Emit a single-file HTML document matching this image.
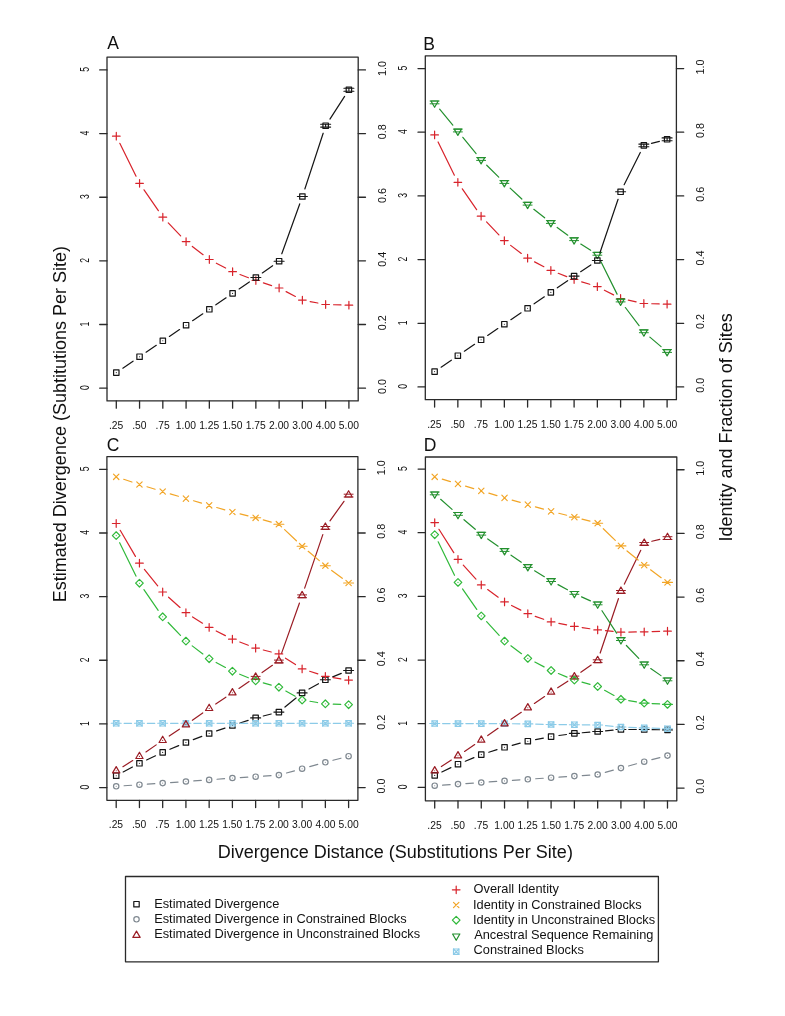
<!DOCTYPE html>
<html><head><meta charset="utf-8"><title>Divergence plots</title>
<style>
html,body{margin:0;padding:0;background:#fff;}
svg{display:block;filter:blur(0.35px);} path,rect,polygon,circle{stroke-linecap:round;stroke-linejoin:round;}
text{font-family:"Liberation Sans",sans-serif;fill:#111;}
</style></head><body>
<svg width="785" height="1016" viewBox="0 0 785 1016">
<rect width="785" height="1016" fill="#fff"/>
<rect x="107.00" y="57.20" width="251.20" height="343.70" fill="none" stroke="#2a2a2a" stroke-width="1.3"/>
<path d="M116.30 400.90V408.20M139.56 400.90V408.20M162.82 400.90V408.20M186.08 400.90V408.20M209.34 400.90V408.20M232.60 400.90V408.20M255.86 400.90V408.20M279.12 400.90V408.20M302.38 400.90V408.20M325.64 400.90V408.20M348.90 400.90V408.20M107.00 388.17H99.70M358.20 388.17H365.50M107.00 324.52H99.70M358.20 324.52H365.50M107.00 260.87H99.70M358.20 260.87H365.50M107.00 197.23H99.70M358.20 197.23H365.50M107.00 133.58H99.70M358.20 133.58H365.50M107.00 69.93H99.70M358.20 69.93H365.50" stroke="#2a2a2a" stroke-width="1.3" fill="none"/>
<text transform="translate(108.89,429.00)" font-size="10.3">.25</text>
<text transform="translate(132.13,429.00)" font-size="10.3">.50</text>
<text transform="translate(155.41,429.00)" font-size="10.3">.75</text>
<text transform="translate(175.87,429.00)" font-size="10.3">1.00</text>
<text transform="translate(199.14,429.00)" font-size="10.3">1.25</text>
<text transform="translate(222.39,429.00)" font-size="10.3">1.50</text>
<text transform="translate(245.66,429.00)" font-size="10.3">1.75</text>
<text transform="translate(269.04,429.00)" font-size="10.3">2.00</text>
<text transform="translate(292.36,429.00)" font-size="10.3">3.00</text>
<text transform="translate(315.70,429.00)" font-size="10.3">4.00</text>
<text transform="translate(338.87,429.00)" font-size="10.3">5.00</text>
<text transform="translate(88.66,390.06) rotate(-90) scale(1.0,1.45)" font-size="8.6">0</text>
<text transform="translate(385.62,393.98) rotate(-90)" font-size="10.8">0.0</text>
<text transform="translate(88.66,326.53) rotate(-90) scale(1.0,1.45)" font-size="8.6">1</text>
<text transform="translate(385.62,330.27) rotate(-90)" font-size="10.8">0.2</text>
<text transform="translate(88.66,262.77) rotate(-90) scale(1.0,1.45)" font-size="8.6">2</text>
<text transform="translate(385.62,266.73) rotate(-90)" font-size="10.8">0.4</text>
<text transform="translate(88.66,199.09) rotate(-90) scale(1.0,1.45)" font-size="8.6">3</text>
<text transform="translate(385.62,203.01) rotate(-90)" font-size="10.8">0.6</text>
<text transform="translate(88.66,135.44) rotate(-90) scale(1.0,1.45)" font-size="8.6">4</text>
<text transform="translate(385.62,139.36) rotate(-90)" font-size="10.8">0.8</text>
<text transform="translate(88.66,71.81) rotate(-90) scale(1.0,1.45)" font-size="8.6">5</text>
<text transform="translate(385.62,75.94) rotate(-90)" font-size="10.8">1.0</text>
<text transform="translate(107.17,49.20)" font-size="17.5">A</text>
<rect x="425.30" y="55.80" width="251.10" height="343.90" fill="none" stroke="#2a2a2a" stroke-width="1.3"/>
<path d="M434.60 399.70V407.00M457.85 399.70V407.00M481.10 399.70V407.00M504.35 399.70V407.00M527.60 399.70V407.00M550.85 399.70V407.00M574.10 399.70V407.00M597.35 399.70V407.00M620.60 399.70V407.00M643.85 399.70V407.00M667.10 399.70V407.00M425.30 386.96H418.00M676.40 386.96H683.70M425.30 323.28H418.00M676.40 323.28H683.70M425.30 259.59H418.00M676.40 259.59H683.70M425.30 195.91H418.00M676.40 195.91H683.70M425.30 132.22H418.00M676.40 132.22H683.70M425.30 68.54H418.00M676.40 68.54H683.70" stroke="#2a2a2a" stroke-width="1.3" fill="none"/>
<text transform="translate(427.19,427.80)" font-size="10.3">.25</text>
<text transform="translate(450.42,427.80)" font-size="10.3">.50</text>
<text transform="translate(473.69,427.80)" font-size="10.3">.75</text>
<text transform="translate(494.14,427.80)" font-size="10.3">1.00</text>
<text transform="translate(517.40,427.80)" font-size="10.3">1.25</text>
<text transform="translate(540.64,427.80)" font-size="10.3">1.50</text>
<text transform="translate(563.90,427.80)" font-size="10.3">1.75</text>
<text transform="translate(587.27,427.80)" font-size="10.3">2.00</text>
<text transform="translate(610.58,427.80)" font-size="10.3">3.00</text>
<text transform="translate(633.91,427.80)" font-size="10.3">4.00</text>
<text transform="translate(657.07,427.80)" font-size="10.3">5.00</text>
<text transform="translate(406.96,388.85) rotate(-90) scale(1.0,1.45)" font-size="8.6">0</text>
<text transform="translate(703.82,392.77) rotate(-90)" font-size="10.8">0.0</text>
<text transform="translate(406.96,325.29) rotate(-90) scale(1.0,1.45)" font-size="8.6">1</text>
<text transform="translate(703.82,329.02) rotate(-90)" font-size="10.8">0.2</text>
<text transform="translate(406.96,261.48) rotate(-90) scale(1.0,1.45)" font-size="8.6">2</text>
<text transform="translate(703.82,265.45) rotate(-90)" font-size="10.8">0.4</text>
<text transform="translate(406.96,197.77) rotate(-90) scale(1.0,1.45)" font-size="8.6">3</text>
<text transform="translate(703.82,201.69) rotate(-90)" font-size="10.8">0.6</text>
<text transform="translate(406.96,134.09) rotate(-90) scale(1.0,1.45)" font-size="8.6">4</text>
<text transform="translate(703.82,138.01) rotate(-90)" font-size="10.8">0.8</text>
<text transform="translate(406.96,70.42) rotate(-90) scale(1.0,1.45)" font-size="8.6">5</text>
<text transform="translate(703.82,74.54) rotate(-90)" font-size="10.8">1.0</text>
<text transform="translate(423.16,49.60)" font-size="17.5">B</text>
<rect x="106.90" y="456.60" width="251.00" height="343.70" fill="none" stroke="#2a2a2a" stroke-width="1.3"/>
<path d="M116.20 800.30V807.60M139.44 800.30V807.60M162.68 800.30V807.60M185.92 800.30V807.60M209.16 800.30V807.60M232.40 800.30V807.60M255.64 800.30V807.60M278.88 800.30V807.60M302.12 800.30V807.60M325.36 800.30V807.60M348.60 800.30V807.60M106.90 787.57H99.60M357.90 787.57H365.20M106.90 723.92H99.60M357.90 723.92H365.20M106.90 660.27H99.60M357.90 660.27H365.20M106.90 596.63H99.60M357.90 596.63H365.20M106.90 532.98H99.60M357.90 532.98H365.20M106.90 469.33H99.60M357.90 469.33H365.20" stroke="#2a2a2a" stroke-width="1.3" fill="none"/>
<text transform="translate(108.78,828.40)" font-size="10.3">.25</text>
<text transform="translate(132.01,828.40)" font-size="10.3">.50</text>
<text transform="translate(155.26,828.40)" font-size="10.3">.75</text>
<text transform="translate(175.70,828.40)" font-size="10.3">1.00</text>
<text transform="translate(198.96,828.40)" font-size="10.3">1.25</text>
<text transform="translate(222.19,828.40)" font-size="10.3">1.50</text>
<text transform="translate(245.44,828.40)" font-size="10.3">1.75</text>
<text transform="translate(268.80,828.40)" font-size="10.3">2.00</text>
<text transform="translate(292.10,828.40)" font-size="10.3">3.00</text>
<text transform="translate(315.42,828.40)" font-size="10.3">4.00</text>
<text transform="translate(338.58,828.40)" font-size="10.3">5.00</text>
<text transform="translate(88.56,789.46) rotate(-90) scale(1.0,1.45)" font-size="8.6">0</text>
<text transform="translate(385.32,793.38) rotate(-90)" font-size="10.8">0.0</text>
<text transform="translate(88.56,725.93) rotate(-90) scale(1.0,1.45)" font-size="8.6">1</text>
<text transform="translate(385.32,729.67) rotate(-90)" font-size="10.8">0.2</text>
<text transform="translate(88.56,662.17) rotate(-90) scale(1.0,1.45)" font-size="8.6">2</text>
<text transform="translate(385.32,666.13) rotate(-90)" font-size="10.8">0.4</text>
<text transform="translate(88.56,598.49) rotate(-90) scale(1.0,1.45)" font-size="8.6">3</text>
<text transform="translate(385.32,602.41) rotate(-90)" font-size="10.8">0.6</text>
<text transform="translate(88.56,534.84) rotate(-90) scale(1.0,1.45)" font-size="8.6">4</text>
<text transform="translate(385.32,538.76) rotate(-90)" font-size="10.8">0.8</text>
<text transform="translate(88.56,471.21) rotate(-90) scale(1.0,1.45)" font-size="8.6">5</text>
<text transform="translate(385.32,475.34) rotate(-90)" font-size="10.8">1.0</text>
<text transform="translate(106.81,451.10)" font-size="17.5">C</text>
<rect x="425.40" y="457.00" width="251.40" height="343.80" fill="none" stroke="#2a2a2a" stroke-width="1.3"/>
<path d="M434.71 800.80V808.10M457.99 800.80V808.10M481.27 800.80V808.10M504.54 800.80V808.10M527.82 800.80V808.10M551.10 800.80V808.10M574.38 800.80V808.10M597.66 800.80V808.10M620.93 800.80V808.10M644.21 800.80V808.10M667.49 800.80V808.10M425.40 787.37H418.10M676.80 788.07H684.10M425.40 723.70H418.10M676.80 724.40H684.10M425.40 660.03H418.10M676.80 660.73H684.10M425.40 596.37H418.10M676.80 597.07H684.10M425.40 532.70H418.10M676.80 533.40H684.10M425.40 469.03H418.10M676.80 469.73H684.10" stroke="#2a2a2a" stroke-width="1.3" fill="none"/>
<text transform="translate(427.30,828.90)" font-size="10.3">.25</text>
<text transform="translate(450.56,828.90)" font-size="10.3">.50</text>
<text transform="translate(473.85,828.90)" font-size="10.3">.75</text>
<text transform="translate(494.33,828.90)" font-size="10.3">1.00</text>
<text transform="translate(517.62,828.90)" font-size="10.3">1.25</text>
<text transform="translate(540.89,828.90)" font-size="10.3">1.50</text>
<text transform="translate(564.18,828.90)" font-size="10.3">1.75</text>
<text transform="translate(587.57,828.90)" font-size="10.3">2.00</text>
<text transform="translate(610.91,828.90)" font-size="10.3">3.00</text>
<text transform="translate(634.27,828.90)" font-size="10.3">4.00</text>
<text transform="translate(657.46,828.90)" font-size="10.3">5.00</text>
<text transform="translate(407.06,789.26) rotate(-90) scale(1.0,1.45)" font-size="8.6">0</text>
<text transform="translate(704.22,793.87) rotate(-90)" font-size="10.8">0.0</text>
<text transform="translate(407.06,725.71) rotate(-90) scale(1.0,1.45)" font-size="8.6">1</text>
<text transform="translate(704.22,730.15) rotate(-90)" font-size="10.8">0.2</text>
<text transform="translate(407.06,661.92) rotate(-90) scale(1.0,1.45)" font-size="8.6">2</text>
<text transform="translate(704.22,666.59) rotate(-90)" font-size="10.8">0.4</text>
<text transform="translate(407.06,598.23) rotate(-90) scale(1.0,1.45)" font-size="8.6">3</text>
<text transform="translate(704.22,602.85) rotate(-90)" font-size="10.8">0.6</text>
<text transform="translate(407.06,534.56) rotate(-90) scale(1.0,1.45)" font-size="8.6">4</text>
<text transform="translate(704.22,539.18) rotate(-90)" font-size="10.8">0.8</text>
<text transform="translate(407.06,470.92) rotate(-90) scale(1.0,1.45)" font-size="8.6">5</text>
<text transform="translate(704.22,475.74) rotate(-90)" font-size="10.8">1.0</text>
<text transform="translate(423.76,451.10)" font-size="17.5">D</text>
<path d="M119.80 143.28L136.06 176.22M144.03 189.81L158.35 210.69M168.27 222.92L180.63 235.88M192.34 246.42L203.08 254.68M216.34 263.17L225.60 268.03M239.99 274.50L248.47 277.70M263.38 282.92L271.60 285.58M286.13 291.65L295.37 296.45M310.14 301.57L317.87 303.03M333.53 304.74L341.00 304.96" stroke="#d8232b" stroke-width="1.2" fill="none"/>
<path d="M112.49 136.20H120.12M116.30 132.38V140.02" stroke="#d8232b" stroke-width="1.2" fill="none"/>
<path d="M135.74 183.30H143.38M139.56 179.48V187.12" stroke="#d8232b" stroke-width="1.2" fill="none"/>
<path d="M159.00 217.20H166.64M162.82 213.38V221.02" stroke="#d8232b" stroke-width="1.2" fill="none"/>
<path d="M182.26 241.60H189.90M186.08 237.78V245.42" stroke="#d8232b" stroke-width="1.2" fill="none"/>
<path d="M205.52 259.50H213.16M209.34 255.68V263.32" stroke="#d8232b" stroke-width="1.2" fill="none"/>
<path d="M228.78 271.70H236.42M232.60 267.88V275.52" stroke="#d8232b" stroke-width="1.2" fill="none"/>
<path d="M252.04 280.50H259.68M255.86 276.68V284.32" stroke="#d8232b" stroke-width="1.2" fill="none"/>
<path d="M275.30 288.00H282.94M279.12 284.18V291.82" stroke="#d8232b" stroke-width="1.2" fill="none"/>
<path d="M298.56 300.10H306.20M302.38 296.28V303.92" stroke="#d8232b" stroke-width="1.2" fill="none"/>
<path d="M321.82 304.50H329.46M325.64 300.68V308.32" stroke="#d8232b" stroke-width="1.2" fill="none"/>
<path d="M345.08 305.20H352.71M348.90 301.38V309.02" stroke="#d8232b" stroke-width="1.2" fill="none"/>
<path d="M122.83 368.14L133.04 361.16M146.08 352.24L156.30 345.26M169.38 336.40L179.52 329.60M192.60 320.74L202.82 313.76M215.86 304.84L226.08 297.86M239.12 288.94L249.34 281.96M262.33 272.97L272.65 265.73M281.79 253.77L299.71 203.93M304.84 188.99L323.17 133.21M329.93 119.07L344.60 96.43" stroke="#151515" stroke-width="1.2" fill="none"/>
<rect x="113.60" y="369.90" width="5.40" height="5.40" fill="none" stroke="#151515" stroke-width="1.2"/>
<circle cx="116.30" cy="372.60" r="0.55" fill="#151515"/>
<rect x="136.86" y="354.00" width="5.40" height="5.40" fill="none" stroke="#151515" stroke-width="1.2"/>
<circle cx="139.56" cy="356.70" r="0.55" fill="#151515"/>
<rect x="160.12" y="338.10" width="5.40" height="5.40" fill="none" stroke="#151515" stroke-width="1.2"/>
<circle cx="162.82" cy="340.80" r="0.55" fill="#151515"/>
<rect x="183.38" y="322.50" width="5.40" height="5.40" fill="none" stroke="#151515" stroke-width="1.2"/>
<circle cx="186.08" cy="325.20" r="0.55" fill="#151515"/>
<rect x="206.64" y="306.60" width="5.40" height="5.40" fill="none" stroke="#151515" stroke-width="1.2"/>
<circle cx="209.34" cy="309.30" r="0.55" fill="#151515"/>
<rect x="229.90" y="290.70" width="5.40" height="5.40" fill="none" stroke="#151515" stroke-width="1.2"/>
<circle cx="232.60" cy="293.40" r="0.55" fill="#151515"/>
<rect x="253.16" y="274.80" width="5.40" height="5.40" fill="none" stroke="#151515" stroke-width="1.2"/>
<path d="M250.86 277.50H260.86" stroke="#151515" stroke-width="1.1"/>
<rect x="276.42" y="258.50" width="5.40" height="5.40" fill="none" stroke="#151515" stroke-width="1.2"/>
<path d="M274.12 261.20H284.12" stroke="#151515" stroke-width="1.1"/>
<rect x="299.68" y="193.80" width="5.40" height="5.40" fill="none" stroke="#151515" stroke-width="1.2"/>
<path d="M297.38 196.50H307.38" stroke="#151515" stroke-width="1.1"/>
<rect x="322.94" y="123.00" width="5.40" height="5.40" fill="none" stroke="#151515" stroke-width="1.2"/>
<path d="M320.64 124.30H330.64M320.64 127.10H330.64M325.64 124.30V127.10" stroke="#151515" stroke-width="1.1" fill="none"/>
<rect x="346.20" y="87.10" width="5.40" height="5.40" fill="none" stroke="#151515" stroke-width="1.2"/>
<path d="M343.90 88.30H353.90M343.90 91.30H353.90M348.90 88.30V91.30" stroke="#151515" stroke-width="1.1" fill="none"/>
<path d="M438.08 141.99L454.37 175.21M462.32 188.81L476.63 209.69M486.55 221.92L498.90 234.88M510.65 245.37L521.30 253.43M534.60 261.87L543.85 266.73M558.21 273.28L566.74 276.62M581.66 281.81L589.79 284.29M604.38 290.20L613.57 294.90M628.32 300.16L636.13 301.84M651.75 303.74L659.20 303.96" stroke="#d8232b" stroke-width="1.2" fill="none"/>
<path d="M430.78 134.90H438.42M434.60 131.08V138.72" stroke="#d8232b" stroke-width="1.2" fill="none"/>
<path d="M454.03 182.30H461.67M457.85 178.48V186.12" stroke="#d8232b" stroke-width="1.2" fill="none"/>
<path d="M477.28 216.20H484.92M481.10 212.38V220.02" stroke="#d8232b" stroke-width="1.2" fill="none"/>
<path d="M500.53 240.60H508.17M504.35 236.78V244.42" stroke="#d8232b" stroke-width="1.2" fill="none"/>
<path d="M523.78 258.20H531.42M527.60 254.38V262.02" stroke="#d8232b" stroke-width="1.2" fill="none"/>
<path d="M547.03 270.40H554.67M550.85 266.58V274.22" stroke="#d8232b" stroke-width="1.2" fill="none"/>
<path d="M570.28 279.50H577.92M574.10 275.68V283.32" stroke="#d8232b" stroke-width="1.2" fill="none"/>
<path d="M593.53 286.60H601.17M597.35 282.78V290.42" stroke="#d8232b" stroke-width="1.2" fill="none"/>
<path d="M616.78 298.50H624.42M620.60 294.68V302.32" stroke="#d8232b" stroke-width="1.2" fill="none"/>
<path d="M640.03 303.50H647.67M643.85 299.68V307.32" stroke="#d8232b" stroke-width="1.2" fill="none"/>
<path d="M663.28 304.20H670.92M667.10 300.38V308.02" stroke="#d8232b" stroke-width="1.2" fill="none"/>
<path d="M439.64 109.19L452.81 125.11M462.84 137.32L476.11 153.58M486.72 165.26L498.73 177.14M510.13 188.09L521.82 199.01M533.81 209.29L544.64 217.81M557.20 227.40L567.75 235.20M580.79 244.10L590.66 250.30M600.87 261.57L617.08 294.13M625.36 307.51L639.09 325.69M649.88 337.11L661.07 346.59" stroke="#23902e" stroke-width="1.2" fill="none"/>
<polygon points="434.60,107.30 438.24,101.00 430.96,101.00" fill="none" stroke="#23902e" stroke-width="1.2" stroke-linejoin="miter"/>
<path d="M430.10 101.00H439.10M430.10 103.80H439.10" stroke="#23902e" stroke-width="1.0" fill="none"/>
<polygon points="457.85,135.40 461.49,129.10 454.21,129.10" fill="none" stroke="#23902e" stroke-width="1.2" stroke-linejoin="miter"/>
<path d="M453.35 129.10H462.35M453.35 131.90H462.35" stroke="#23902e" stroke-width="1.0" fill="none"/>
<polygon points="481.10,163.90 484.74,157.60 477.46,157.60" fill="none" stroke="#23902e" stroke-width="1.2" stroke-linejoin="miter"/>
<path d="M476.60 157.60H485.60M476.60 160.40H485.60" stroke="#23902e" stroke-width="1.0" fill="none"/>
<polygon points="504.35,186.90 507.99,180.60 500.71,180.60" fill="none" stroke="#23902e" stroke-width="1.2" stroke-linejoin="miter"/>
<path d="M499.85 180.60H508.85M499.85 183.40H508.85" stroke="#23902e" stroke-width="1.0" fill="none"/>
<polygon points="527.60,208.60 531.24,202.30 523.96,202.30" fill="none" stroke="#23902e" stroke-width="1.2" stroke-linejoin="miter"/>
<path d="M523.10 202.30H532.10M523.10 205.10H532.10" stroke="#23902e" stroke-width="1.0" fill="none"/>
<polygon points="550.85,226.90 554.49,220.60 547.21,220.60" fill="none" stroke="#23902e" stroke-width="1.2" stroke-linejoin="miter"/>
<path d="M546.35 220.60H555.35M546.35 223.40H555.35" stroke="#23902e" stroke-width="1.0" fill="none"/>
<polygon points="574.10,244.10 577.74,237.80 570.46,237.80" fill="none" stroke="#23902e" stroke-width="1.2" stroke-linejoin="miter"/>
<path d="M569.60 237.80H578.60M569.60 240.60H578.60" stroke="#23902e" stroke-width="1.0" fill="none"/>
<polygon points="597.35,258.70 600.99,252.40 593.71,252.40" fill="none" stroke="#23902e" stroke-width="1.2" stroke-linejoin="miter"/>
<path d="M592.85 252.40H601.85M592.85 255.20H601.85" stroke="#23902e" stroke-width="1.0" fill="none"/>
<polygon points="620.60,305.40 624.24,299.10 616.96,299.10" fill="none" stroke="#23902e" stroke-width="1.2" stroke-linejoin="miter"/>
<path d="M616.10 299.10H625.10M616.10 301.90H625.10" stroke="#23902e" stroke-width="1.0" fill="none"/>
<polygon points="643.85,336.20 647.49,329.90 640.21,329.90" fill="none" stroke="#23902e" stroke-width="1.2" stroke-linejoin="miter"/>
<path d="M639.35 329.90H648.35M639.35 332.70H648.35" stroke="#23902e" stroke-width="1.0" fill="none"/>
<polygon points="667.10,355.90 670.74,349.60 663.46,349.60" fill="none" stroke="#23902e" stroke-width="1.2" stroke-linejoin="miter"/>
<path d="M662.60 349.60H671.60M662.60 352.40H671.60" stroke="#23902e" stroke-width="1.0" fill="none"/>
<path d="M441.12 367.14L451.33 360.16M464.37 351.24L474.58 344.26M487.66 335.40L497.79 328.60M510.87 319.74L521.08 312.76M534.12 303.84L544.33 296.86M557.32 287.86L567.63 280.64M580.66 271.70L590.79 264.90M599.88 253.02L618.07 199.28M624.14 184.74L640.31 152.46M651.49 143.40L659.46 141.30" stroke="#151515" stroke-width="1.2" fill="none"/>
<rect x="431.90" y="368.90" width="5.40" height="5.40" fill="none" stroke="#151515" stroke-width="1.2"/>
<circle cx="434.60" cy="371.60" r="0.55" fill="#151515"/>
<rect x="455.15" y="353.00" width="5.40" height="5.40" fill="none" stroke="#151515" stroke-width="1.2"/>
<circle cx="457.85" cy="355.70" r="0.55" fill="#151515"/>
<rect x="478.40" y="337.10" width="5.40" height="5.40" fill="none" stroke="#151515" stroke-width="1.2"/>
<circle cx="481.10" cy="339.80" r="0.55" fill="#151515"/>
<rect x="501.65" y="321.50" width="5.40" height="5.40" fill="none" stroke="#151515" stroke-width="1.2"/>
<circle cx="504.35" cy="324.20" r="0.55" fill="#151515"/>
<rect x="524.90" y="305.60" width="5.40" height="5.40" fill="none" stroke="#151515" stroke-width="1.2"/>
<circle cx="527.60" cy="308.30" r="0.55" fill="#151515"/>
<rect x="548.15" y="289.70" width="5.40" height="5.40" fill="none" stroke="#151515" stroke-width="1.2"/>
<circle cx="550.85" cy="292.40" r="0.55" fill="#151515"/>
<rect x="571.40" y="273.40" width="5.40" height="5.40" fill="none" stroke="#151515" stroke-width="1.2"/>
<path d="M569.10 276.10H579.10" stroke="#151515" stroke-width="1.1"/>
<rect x="594.65" y="257.80" width="5.40" height="5.40" fill="none" stroke="#151515" stroke-width="1.2"/>
<path d="M592.35 260.50H602.35" stroke="#151515" stroke-width="1.1"/>
<rect x="617.90" y="189.10" width="5.40" height="5.40" fill="none" stroke="#151515" stroke-width="1.2"/>
<path d="M615.60 191.80H625.60" stroke="#151515" stroke-width="1.1"/>
<rect x="641.15" y="142.70" width="5.40" height="5.40" fill="none" stroke="#151515" stroke-width="1.2"/>
<path d="M638.85 144.10H648.85M638.85 146.70H648.85M643.85 144.10V146.70" stroke="#151515" stroke-width="1.1" fill="none"/>
<rect x="664.40" y="136.60" width="5.40" height="5.40" fill="none" stroke="#151515" stroke-width="1.2"/>
<path d="M662.10 137.90H672.10M662.10 140.70H672.10M667.10 137.90V140.70" stroke="#151515" stroke-width="1.1" fill="none"/>
<path d="M124.08 785.76L131.56 785.24M147.32 784.16L154.80 783.64M170.56 782.56L178.04 782.04M193.80 780.96L201.28 780.44M217.03 779.26L224.53 778.64M240.29 777.56L247.75 777.14M263.52 776.16L271.00 775.64M286.50 773.00L294.51 770.80M309.74 766.60L317.75 764.40M333.00 760.29L340.96 758.21" stroke="#7f8890" stroke-width="1.2" fill="none"/>
<circle cx="116.20" cy="786.30" r="2.70" fill="none" stroke="#7f8890" stroke-width="1.2"/>
<circle cx="116.20" cy="786.30" r="0.55" fill="#7f8890"/>
<circle cx="139.44" cy="784.70" r="2.70" fill="none" stroke="#7f8890" stroke-width="1.2"/>
<circle cx="139.44" cy="784.70" r="0.55" fill="#7f8890"/>
<circle cx="162.68" cy="783.10" r="2.70" fill="none" stroke="#7f8890" stroke-width="1.2"/>
<circle cx="162.68" cy="783.10" r="0.55" fill="#7f8890"/>
<circle cx="185.92" cy="781.50" r="2.70" fill="none" stroke="#7f8890" stroke-width="1.2"/>
<circle cx="185.92" cy="781.50" r="0.55" fill="#7f8890"/>
<circle cx="209.16" cy="779.90" r="2.70" fill="none" stroke="#7f8890" stroke-width="1.2"/>
<circle cx="209.16" cy="779.90" r="0.55" fill="#7f8890"/>
<circle cx="232.40" cy="778.00" r="2.70" fill="none" stroke="#7f8890" stroke-width="1.2"/>
<circle cx="232.40" cy="778.00" r="0.55" fill="#7f8890"/>
<circle cx="255.64" cy="776.70" r="2.70" fill="none" stroke="#7f8890" stroke-width="1.2"/>
<circle cx="255.64" cy="776.70" r="0.55" fill="#7f8890"/>
<circle cx="278.88" cy="775.10" r="2.70" fill="none" stroke="#7f8890" stroke-width="1.2"/>
<circle cx="278.88" cy="775.10" r="0.55" fill="#7f8890"/>
<circle cx="302.12" cy="768.70" r="2.70" fill="none" stroke="#7f8890" stroke-width="1.2"/>
<circle cx="302.12" cy="768.70" r="0.55" fill="#7f8890"/>
<circle cx="325.36" cy="762.30" r="2.70" fill="none" stroke="#7f8890" stroke-width="1.2"/>
<circle cx="325.36" cy="762.30" r="0.55" fill="#7f8890"/>
<circle cx="348.60" cy="756.20" r="2.70" fill="none" stroke="#7f8890" stroke-width="1.2"/>
<circle cx="348.60" cy="756.20" r="0.55" fill="#7f8890"/>
<path d="M123.17 771.98L132.47 767.02M146.59 759.95L155.53 755.75M169.95 749.30L178.65 745.60M193.29 739.65L201.79 736.35M216.63 730.93L224.93 728.07M239.91 723.04L248.13 720.36M263.31 715.99L271.22 714.01M284.97 707.07L296.03 697.93M309.00 689.02L318.48 683.68M332.70 676.87L341.27 673.43" stroke="#151515" stroke-width="1.2" fill="none"/>
<rect x="113.50" y="773.00" width="5.40" height="5.40" fill="none" stroke="#151515" stroke-width="1.2"/>
<circle cx="116.20" cy="775.70" r="0.55" fill="#151515"/>
<rect x="136.74" y="760.60" width="5.40" height="5.40" fill="none" stroke="#151515" stroke-width="1.2"/>
<circle cx="139.44" cy="763.30" r="0.55" fill="#151515"/>
<rect x="159.98" y="749.70" width="5.40" height="5.40" fill="none" stroke="#151515" stroke-width="1.2"/>
<circle cx="162.68" cy="752.40" r="0.55" fill="#151515"/>
<rect x="183.22" y="739.80" width="5.40" height="5.40" fill="none" stroke="#151515" stroke-width="1.2"/>
<circle cx="185.92" cy="742.50" r="0.55" fill="#151515"/>
<rect x="206.46" y="730.80" width="5.40" height="5.40" fill="none" stroke="#151515" stroke-width="1.2"/>
<circle cx="209.16" cy="733.50" r="0.55" fill="#151515"/>
<rect x="229.70" y="722.80" width="5.40" height="5.40" fill="none" stroke="#151515" stroke-width="1.2"/>
<circle cx="232.40" cy="725.50" r="0.55" fill="#151515"/>
<rect x="252.94" y="715.20" width="5.40" height="5.40" fill="none" stroke="#151515" stroke-width="1.2"/>
<path d="M250.64 717.90H260.64" stroke="#151515" stroke-width="1.1"/>
<rect x="276.18" y="709.40" width="5.40" height="5.40" fill="none" stroke="#151515" stroke-width="1.2"/>
<path d="M273.88 712.10H283.88" stroke="#151515" stroke-width="1.1"/>
<rect x="299.42" y="690.20" width="5.40" height="5.40" fill="none" stroke="#151515" stroke-width="1.2"/>
<path d="M297.12 692.90H307.12" stroke="#151515" stroke-width="1.1"/>
<rect x="322.66" y="677.10" width="5.40" height="5.40" fill="none" stroke="#151515" stroke-width="1.2"/>
<path d="M320.36 679.80H330.36" stroke="#151515" stroke-width="1.1"/>
<rect x="345.90" y="667.80" width="5.40" height="5.40" fill="none" stroke="#151515" stroke-width="1.2"/>
<path d="M343.60 670.50H353.60" stroke="#151515" stroke-width="1.1"/>
<path d="M124.10 723.30L131.54 723.30M147.34 723.30L154.78 723.30M170.58 723.30L178.02 723.30M193.82 723.30L201.26 723.30M217.06 723.30L224.50 723.30M240.30 723.30L247.74 723.30M263.54 723.30L270.98 723.30M286.78 723.30L294.22 723.30M310.02 723.30L317.46 723.30M333.26 723.30L340.70 723.30" stroke="#8ccbe8" stroke-width="1.2" fill="none"/>
<rect x="113.50" y="720.60" width="5.40" height="5.40" fill="none" stroke="#8ccbe8" stroke-width="1.2"/><path d="M113.50 720.60L118.90 726.00M113.50 726.00L118.90 720.60" stroke="#8ccbe8" stroke-width="1.2" fill="none"/>
<path d="M111.20 723.30H121.20" stroke="#8ccbe8" stroke-width="1.1"/>
<rect x="136.74" y="720.60" width="5.40" height="5.40" fill="none" stroke="#8ccbe8" stroke-width="1.2"/><path d="M136.74 720.60L142.14 726.00M136.74 726.00L142.14 720.60" stroke="#8ccbe8" stroke-width="1.2" fill="none"/>
<path d="M134.44 723.30H144.44" stroke="#8ccbe8" stroke-width="1.1"/>
<rect x="159.98" y="720.60" width="5.40" height="5.40" fill="none" stroke="#8ccbe8" stroke-width="1.2"/><path d="M159.98 720.60L165.38 726.00M159.98 726.00L165.38 720.60" stroke="#8ccbe8" stroke-width="1.2" fill="none"/>
<path d="M157.68 723.30H167.68" stroke="#8ccbe8" stroke-width="1.1"/>
<rect x="183.22" y="720.60" width="5.40" height="5.40" fill="none" stroke="#8ccbe8" stroke-width="1.2"/><path d="M183.22 720.60L188.62 726.00M183.22 726.00L188.62 720.60" stroke="#8ccbe8" stroke-width="1.2" fill="none"/>
<path d="M180.92 723.30H190.92" stroke="#8ccbe8" stroke-width="1.1"/>
<rect x="206.46" y="720.60" width="5.40" height="5.40" fill="none" stroke="#8ccbe8" stroke-width="1.2"/><path d="M206.46 720.60L211.86 726.00M206.46 726.00L211.86 720.60" stroke="#8ccbe8" stroke-width="1.2" fill="none"/>
<path d="M204.16 723.30H214.16" stroke="#8ccbe8" stroke-width="1.1"/>
<rect x="229.70" y="720.60" width="5.40" height="5.40" fill="none" stroke="#8ccbe8" stroke-width="1.2"/><path d="M229.70 720.60L235.10 726.00M229.70 726.00L235.10 720.60" stroke="#8ccbe8" stroke-width="1.2" fill="none"/>
<path d="M227.40 723.30H237.40" stroke="#8ccbe8" stroke-width="1.1"/>
<rect x="252.94" y="720.60" width="5.40" height="5.40" fill="none" stroke="#8ccbe8" stroke-width="1.2"/><path d="M252.94 720.60L258.34 726.00M252.94 726.00L258.34 720.60" stroke="#8ccbe8" stroke-width="1.2" fill="none"/>
<path d="M250.64 723.30H260.64" stroke="#8ccbe8" stroke-width="1.1"/>
<rect x="276.18" y="720.60" width="5.40" height="5.40" fill="none" stroke="#8ccbe8" stroke-width="1.2"/><path d="M276.18 720.60L281.58 726.00M276.18 726.00L281.58 720.60" stroke="#8ccbe8" stroke-width="1.2" fill="none"/>
<path d="M273.88 723.30H283.88" stroke="#8ccbe8" stroke-width="1.1"/>
<rect x="299.42" y="720.60" width="5.40" height="5.40" fill="none" stroke="#8ccbe8" stroke-width="1.2"/><path d="M299.42 720.60L304.82 726.00M299.42 726.00L304.82 720.60" stroke="#8ccbe8" stroke-width="1.2" fill="none"/>
<path d="M297.12 723.30H307.12" stroke="#8ccbe8" stroke-width="1.1"/>
<rect x="322.66" y="720.60" width="5.40" height="5.40" fill="none" stroke="#8ccbe8" stroke-width="1.2"/><path d="M322.66 720.60L328.06 726.00M322.66 726.00L328.06 720.60" stroke="#8ccbe8" stroke-width="1.2" fill="none"/>
<path d="M320.36 723.30H330.36" stroke="#8ccbe8" stroke-width="1.1"/>
<rect x="345.90" y="720.60" width="5.40" height="5.40" fill="none" stroke="#8ccbe8" stroke-width="1.2"/><path d="M345.90 720.60L351.30 726.00M345.90 726.00L351.30 720.60" stroke="#8ccbe8" stroke-width="1.2" fill="none"/>
<path d="M343.60 723.30H353.60" stroke="#8ccbe8" stroke-width="1.1"/>
<path d="M122.91 766.64L132.72 760.56M145.94 751.92L156.17 744.88M169.24 736.00L179.36 729.20M192.37 720.25L202.70 712.95M215.72 704.00L225.84 697.20M238.95 688.38L249.09 681.52M262.11 672.56L272.41 665.34M281.53 653.36L299.47 603.04M304.66 588.12L322.82 534.68M329.98 520.79L343.99 501.31" stroke="#9a1c24" stroke-width="1.2" fill="none"/>
<polygon points="116.20,766.60 119.83,772.90 112.56,772.90" fill="none" stroke="#9a1c24" stroke-width="1.2" stroke-linejoin="miter"/>
<circle cx="116.20" cy="770.80" r="0.55" fill="#9a1c24"/>
<polygon points="139.44,752.20 143.07,758.50 135.80,758.50" fill="none" stroke="#9a1c24" stroke-width="1.2" stroke-linejoin="miter"/>
<circle cx="139.44" cy="756.40" r="0.55" fill="#9a1c24"/>
<polygon points="162.68,736.20 166.31,742.50 159.04,742.50" fill="none" stroke="#9a1c24" stroke-width="1.2" stroke-linejoin="miter"/>
<circle cx="162.68" cy="740.40" r="0.55" fill="#9a1c24"/>
<polygon points="185.92,720.60 189.55,726.90 182.28,726.90" fill="none" stroke="#9a1c24" stroke-width="1.2" stroke-linejoin="miter"/>
<circle cx="185.92" cy="724.80" r="0.55" fill="#9a1c24"/>
<polygon points="209.16,704.20 212.80,710.50 205.52,710.50" fill="none" stroke="#9a1c24" stroke-width="1.2" stroke-linejoin="miter"/>
<circle cx="209.16" cy="708.40" r="0.55" fill="#9a1c24"/>
<polygon points="232.40,688.60 236.04,694.90 228.76,694.90" fill="none" stroke="#9a1c24" stroke-width="1.2" stroke-linejoin="miter"/>
<circle cx="232.40" cy="692.80" r="0.55" fill="#9a1c24"/>
<polygon points="255.64,672.90 259.28,679.20 252.00,679.20" fill="none" stroke="#9a1c24" stroke-width="1.2" stroke-linejoin="miter"/>
<path d="M251.14 679.20H260.14M251.14 676.40H260.14" stroke="#9a1c24" stroke-width="1.0" fill="none"/>
<polygon points="278.88,656.60 282.52,662.90 275.25,662.90" fill="none" stroke="#9a1c24" stroke-width="1.2" stroke-linejoin="miter"/>
<path d="M274.38 662.90H283.38M274.38 660.10H283.38" stroke="#9a1c24" stroke-width="1.0" fill="none"/>
<polygon points="302.12,591.40 305.76,597.70 298.49,597.70" fill="none" stroke="#9a1c24" stroke-width="1.2" stroke-linejoin="miter"/>
<path d="M297.62 597.70H306.62M297.62 594.90H306.62" stroke="#9a1c24" stroke-width="1.0" fill="none"/>
<polygon points="325.36,523.00 329.00,529.30 321.73,529.30" fill="none" stroke="#9a1c24" stroke-width="1.2" stroke-linejoin="miter"/>
<path d="M320.86 529.30H329.86M320.86 526.50H329.86" stroke="#9a1c24" stroke-width="1.0" fill="none"/>
<polygon points="348.60,490.70 352.24,497.00 344.97,497.00" fill="none" stroke="#9a1c24" stroke-width="1.2" stroke-linejoin="miter"/>
<path d="M344.10 497.00H353.10M344.10 494.20H353.10" stroke="#9a1c24" stroke-width="1.0" fill="none"/>
<path d="M119.66 542.70L135.97 576.10M143.93 589.70L158.18 610.30M168.14 622.51L180.46 635.39M192.22 645.87L202.86 653.93M216.12 662.44L225.44 667.46M239.70 674.22L248.34 677.78M263.26 682.90L271.26 685.10M285.80 691.01L295.20 696.19M309.92 701.27L317.57 702.53M333.26 704.11L340.71 704.39" stroke="#30b93a" stroke-width="1.2" fill="none"/>
<polygon points="116.20,531.78 120.01,535.60 116.20,539.42 112.38,535.60" fill="none" stroke="#30b93a" stroke-width="1.2"/>
<circle cx="116.20" cy="535.60" r="0.55" fill="#30b93a"/>
<polygon points="139.44,579.38 143.26,583.20 139.44,587.02 135.62,583.20" fill="none" stroke="#30b93a" stroke-width="1.2"/>
<circle cx="139.44" cy="583.20" r="0.55" fill="#30b93a"/>
<polygon points="162.68,612.98 166.50,616.80 162.68,620.62 158.86,616.80" fill="none" stroke="#30b93a" stroke-width="1.2"/>
<circle cx="162.68" cy="616.80" r="0.55" fill="#30b93a"/>
<polygon points="185.92,637.28 189.74,641.10 185.92,644.92 182.10,641.10" fill="none" stroke="#30b93a" stroke-width="1.2"/>
<circle cx="185.92" cy="641.10" r="0.55" fill="#30b93a"/>
<polygon points="209.16,654.88 212.98,658.70 209.16,662.52 205.34,658.70" fill="none" stroke="#30b93a" stroke-width="1.2"/>
<circle cx="209.16" cy="658.70" r="0.55" fill="#30b93a"/>
<polygon points="232.40,667.38 236.22,671.20 232.40,675.02 228.58,671.20" fill="none" stroke="#30b93a" stroke-width="1.2"/>
<circle cx="232.40" cy="671.20" r="0.55" fill="#30b93a"/>
<polygon points="255.64,676.98 259.46,680.80 255.64,684.62 251.82,680.80" fill="none" stroke="#30b93a" stroke-width="1.2"/>
<circle cx="255.64" cy="680.80" r="0.55" fill="#30b93a"/>
<polygon points="278.88,683.38 282.70,687.20 278.88,691.02 275.06,687.20" fill="none" stroke="#30b93a" stroke-width="1.2"/>
<circle cx="278.88" cy="687.20" r="0.55" fill="#30b93a"/>
<polygon points="302.12,696.18 305.94,700.00 302.12,703.82 298.30,700.00" fill="none" stroke="#30b93a" stroke-width="1.2"/>
<circle cx="302.12" cy="700.00" r="0.55" fill="#30b93a"/>
<polygon points="325.36,699.98 329.18,703.80 325.36,707.62 321.54,703.80" fill="none" stroke="#30b93a" stroke-width="1.2"/>
<circle cx="325.36" cy="703.80" r="0.55" fill="#30b93a"/>
<polygon points="348.60,700.88 352.42,704.70 348.60,708.52 344.79,704.70" fill="none" stroke="#30b93a" stroke-width="1.2"/>
<circle cx="348.60" cy="704.70" r="0.55" fill="#30b93a"/>
<path d="M120.19 530.32L135.45 556.38M144.40 569.35L157.72 585.85M168.58 597.25L180.02 607.45M192.60 616.92L202.48 623.18M216.20 630.98L225.36 635.62M239.78 642.03L248.26 645.27M263.31 650.01L271.22 651.99M285.52 658.18L295.48 664.62M309.65 671.30L317.84 673.90M333.16 677.57L340.81 678.83" stroke="#d8232b" stroke-width="1.2" fill="none"/>
<path d="M112.38 523.50H120.01M116.20 519.68V527.32" stroke="#d8232b" stroke-width="1.2" fill="none"/>
<path d="M135.62 563.20H143.26M139.44 559.38V567.02" stroke="#d8232b" stroke-width="1.2" fill="none"/>
<path d="M158.86 592.00H166.50M162.68 588.18V595.82" stroke="#d8232b" stroke-width="1.2" fill="none"/>
<path d="M182.10 612.70H189.74M185.92 608.88V616.52" stroke="#d8232b" stroke-width="1.2" fill="none"/>
<path d="M205.34 627.40H212.98M209.16 623.58V631.22" stroke="#d8232b" stroke-width="1.2" fill="none"/>
<path d="M228.58 639.20H236.22M232.40 635.38V643.02" stroke="#d8232b" stroke-width="1.2" fill="none"/>
<path d="M251.82 648.10H259.46M255.64 644.28V651.92" stroke="#d8232b" stroke-width="1.2" fill="none"/>
<path d="M275.06 653.90H282.70M278.88 650.08V657.72" stroke="#d8232b" stroke-width="1.2" fill="none"/>
<path d="M298.30 668.90H305.94M302.12 665.08V672.72" stroke="#d8232b" stroke-width="1.2" fill="none"/>
<path d="M321.54 676.30H329.18M325.36 672.48V680.12" stroke="#d8232b" stroke-width="1.2" fill="none"/>
<path d="M344.79 680.10H352.42M348.60 676.28V683.92" stroke="#d8232b" stroke-width="1.2" fill="none"/>
<path d="M123.70 479.28L131.94 482.02M147.00 486.78L155.11 489.22M170.23 493.81L178.36 496.29M193.51 500.79L201.57 503.11M216.75 507.49L224.81 509.81M240.06 513.91L247.98 515.89M263.26 519.90L271.26 522.10M284.62 529.63L296.39 540.77M308.17 551.28L319.31 560.62M331.70 570.42L342.27 578.28" stroke="#f2a526" stroke-width="1.2" fill="none"/>
<path d="M113.50 474.10L118.90 479.50M113.50 479.50L118.90 474.10" stroke="#f2a526" stroke-width="1.2" fill="none"/>
<path d="M136.74 481.80L142.14 487.20M136.74 487.20L142.14 481.80" stroke="#f2a526" stroke-width="1.2" fill="none"/>
<path d="M159.98 488.80L165.38 494.20M159.98 494.20L165.38 488.80" stroke="#f2a526" stroke-width="1.2" fill="none"/>
<path d="M183.22 495.90L188.62 501.30M183.22 501.30L188.62 495.90" stroke="#f2a526" stroke-width="1.2" fill="none"/>
<path d="M206.46 502.60L211.86 508.00M206.46 508.00L211.86 502.60" stroke="#f2a526" stroke-width="1.2" fill="none"/>
<path d="M229.70 509.30L235.10 514.70M229.70 514.70L235.10 509.30" stroke="#f2a526" stroke-width="1.2" fill="none"/>
<path d="M252.94 515.10L258.34 520.50M252.94 520.50L258.34 515.10" stroke="#f2a526" stroke-width="1.2" fill="none"/>
<path d="M250.64 517.80H260.64" stroke="#f2a526" stroke-width="1.1"/>
<path d="M276.18 521.50L281.58 526.90M276.18 526.90L281.58 521.50" stroke="#f2a526" stroke-width="1.2" fill="none"/>
<path d="M273.88 524.20H283.88" stroke="#f2a526" stroke-width="1.1"/>
<path d="M299.42 543.50L304.82 548.90M299.42 548.90L304.82 543.50" stroke="#f2a526" stroke-width="1.2" fill="none"/>
<path d="M297.12 546.20H307.12" stroke="#f2a526" stroke-width="1.1"/>
<path d="M322.66 563.00L328.06 568.40M322.66 568.40L328.06 563.00" stroke="#f2a526" stroke-width="1.2" fill="none"/>
<path d="M320.36 565.70H330.36" stroke="#f2a526" stroke-width="1.1"/>
<path d="M345.90 580.30L351.30 585.70M345.90 585.70L351.30 580.30" stroke="#f2a526" stroke-width="1.2" fill="none"/>
<path d="M343.60 583.00H353.60" stroke="#f2a526" stroke-width="1.1"/>
<path d="M442.59 785.16L450.11 784.64M465.87 783.56L473.39 783.04M489.15 781.96L496.66 781.44M512.43 780.36L519.94 779.84M535.70 778.76L543.22 778.24M558.98 777.16L566.50 776.64M582.26 775.56L589.77 775.04M605.27 772.41L613.32 770.19M628.55 766.01L636.59 763.79M651.85 759.70L659.85 757.60" stroke="#7f8890" stroke-width="1.2" fill="none"/>
<circle cx="434.71" cy="785.70" r="2.70" fill="none" stroke="#7f8890" stroke-width="1.2"/>
<circle cx="434.71" cy="785.70" r="0.55" fill="#7f8890"/>
<circle cx="457.99" cy="784.10" r="2.70" fill="none" stroke="#7f8890" stroke-width="1.2"/>
<circle cx="457.99" cy="784.10" r="0.55" fill="#7f8890"/>
<circle cx="481.27" cy="782.50" r="2.70" fill="none" stroke="#7f8890" stroke-width="1.2"/>
<circle cx="481.27" cy="782.50" r="0.55" fill="#7f8890"/>
<circle cx="504.54" cy="780.90" r="2.70" fill="none" stroke="#7f8890" stroke-width="1.2"/>
<circle cx="504.54" cy="780.90" r="0.55" fill="#7f8890"/>
<circle cx="527.82" cy="779.30" r="2.70" fill="none" stroke="#7f8890" stroke-width="1.2"/>
<circle cx="527.82" cy="779.30" r="0.55" fill="#7f8890"/>
<circle cx="551.10" cy="777.70" r="2.70" fill="none" stroke="#7f8890" stroke-width="1.2"/>
<circle cx="551.10" cy="777.70" r="0.55" fill="#7f8890"/>
<circle cx="574.38" cy="776.10" r="2.70" fill="none" stroke="#7f8890" stroke-width="1.2"/>
<circle cx="574.38" cy="776.10" r="0.55" fill="#7f8890"/>
<circle cx="597.66" cy="774.50" r="2.70" fill="none" stroke="#7f8890" stroke-width="1.2"/>
<circle cx="597.66" cy="774.50" r="0.55" fill="#7f8890"/>
<circle cx="620.93" cy="768.10" r="2.70" fill="none" stroke="#7f8890" stroke-width="1.2"/>
<circle cx="620.93" cy="768.10" r="0.55" fill="#7f8890"/>
<circle cx="644.21" cy="761.70" r="2.70" fill="none" stroke="#7f8890" stroke-width="1.2"/>
<circle cx="644.21" cy="761.70" r="0.55" fill="#7f8890"/>
<circle cx="667.49" cy="755.60" r="2.70" fill="none" stroke="#7f8890" stroke-width="1.2"/>
<circle cx="667.49" cy="755.60" r="0.55" fill="#7f8890"/>
<path d="M441.83 771.97L450.87 767.63M465.29 761.19L473.96 757.61M488.80 752.24L497.01 749.66M512.19 745.30L520.18 743.20M535.57 739.67L543.35 738.13M558.93 735.52L566.55 734.48M582.25 732.76L589.78 732.14M605.53 730.82L613.06 730.18M628.83 729.50L636.31 729.50M652.11 729.64L659.59 729.76" stroke="#151515" stroke-width="1.2" fill="none"/>
<rect x="432.01" y="772.70" width="5.40" height="5.40" fill="none" stroke="#151515" stroke-width="1.2"/>
<circle cx="434.71" cy="775.40" r="0.55" fill="#151515"/>
<rect x="455.29" y="761.50" width="5.40" height="5.40" fill="none" stroke="#151515" stroke-width="1.2"/>
<circle cx="457.99" cy="764.20" r="0.55" fill="#151515"/>
<rect x="478.57" y="751.90" width="5.40" height="5.40" fill="none" stroke="#151515" stroke-width="1.2"/>
<circle cx="481.27" cy="754.60" r="0.55" fill="#151515"/>
<rect x="501.84" y="744.60" width="5.40" height="5.40" fill="none" stroke="#151515" stroke-width="1.2"/>
<circle cx="504.54" cy="747.30" r="0.55" fill="#151515"/>
<rect x="525.12" y="738.50" width="5.40" height="5.40" fill="none" stroke="#151515" stroke-width="1.2"/>
<circle cx="527.82" cy="741.20" r="0.55" fill="#151515"/>
<rect x="548.40" y="733.90" width="5.40" height="5.40" fill="none" stroke="#151515" stroke-width="1.2"/>
<circle cx="551.10" cy="736.60" r="0.55" fill="#151515"/>
<rect x="571.68" y="730.70" width="5.40" height="5.40" fill="none" stroke="#151515" stroke-width="1.2"/>
<path d="M569.38 733.40H579.38" stroke="#151515" stroke-width="1.1"/>
<rect x="594.96" y="728.80" width="5.40" height="5.40" fill="none" stroke="#151515" stroke-width="1.2"/>
<path d="M592.66 731.50H602.66" stroke="#151515" stroke-width="1.1"/>
<rect x="618.23" y="726.80" width="5.40" height="5.40" fill="none" stroke="#151515" stroke-width="1.2"/>
<path d="M615.93 729.50H625.93" stroke="#151515" stroke-width="1.1"/>
<rect x="641.51" y="726.80" width="5.40" height="5.40" fill="none" stroke="#151515" stroke-width="1.2"/>
<path d="M639.21 729.50H649.21" stroke="#151515" stroke-width="1.1"/>
<rect x="664.79" y="727.20" width="5.40" height="5.40" fill="none" stroke="#151515" stroke-width="1.2"/>
<path d="M662.49 729.90H672.49" stroke="#151515" stroke-width="1.1"/>
<path d="M442.61 723.53L450.09 723.57M465.89 723.60L473.37 723.60M489.17 723.63L496.64 723.67M512.44 723.77L519.92 723.83M535.72 724.10L543.20 724.30M559.00 724.57L566.48 724.63M582.28 724.80L589.76 724.90M605.53 725.68L613.06 726.32M628.83 727.31L636.32 727.59M652.11 728.17L659.59 728.43" stroke="#8ccbe8" stroke-width="1.2" fill="none"/>
<rect x="432.01" y="720.80" width="5.40" height="5.40" fill="none" stroke="#8ccbe8" stroke-width="1.2"/><path d="M432.01 720.80L437.41 726.20M432.01 726.20L437.41 720.80" stroke="#8ccbe8" stroke-width="1.2" fill="none"/>
<path d="M429.71 723.50H439.71" stroke="#8ccbe8" stroke-width="1.1"/>
<rect x="455.29" y="720.90" width="5.40" height="5.40" fill="none" stroke="#8ccbe8" stroke-width="1.2"/><path d="M455.29 720.90L460.69 726.30M455.29 726.30L460.69 720.90" stroke="#8ccbe8" stroke-width="1.2" fill="none"/>
<path d="M452.99 723.60H462.99" stroke="#8ccbe8" stroke-width="1.1"/>
<rect x="478.57" y="720.90" width="5.40" height="5.40" fill="none" stroke="#8ccbe8" stroke-width="1.2"/><path d="M478.57 720.90L483.97 726.30M478.57 726.30L483.97 720.90" stroke="#8ccbe8" stroke-width="1.2" fill="none"/>
<path d="M476.27 723.60H486.27" stroke="#8ccbe8" stroke-width="1.1"/>
<rect x="501.84" y="721.00" width="5.40" height="5.40" fill="none" stroke="#8ccbe8" stroke-width="1.2"/><path d="M501.84 721.00L507.24 726.40M501.84 726.40L507.24 721.00" stroke="#8ccbe8" stroke-width="1.2" fill="none"/>
<path d="M499.54 723.70H509.54" stroke="#8ccbe8" stroke-width="1.1"/>
<rect x="525.12" y="721.20" width="5.40" height="5.40" fill="none" stroke="#8ccbe8" stroke-width="1.2"/><path d="M525.12 721.20L530.52 726.60M525.12 726.60L530.52 721.20" stroke="#8ccbe8" stroke-width="1.2" fill="none"/>
<path d="M522.82 723.90H532.82" stroke="#8ccbe8" stroke-width="1.1"/>
<rect x="548.40" y="721.80" width="5.40" height="5.40" fill="none" stroke="#8ccbe8" stroke-width="1.2"/><path d="M548.40 721.80L553.80 727.20M548.40 727.20L553.80 721.80" stroke="#8ccbe8" stroke-width="1.2" fill="none"/>
<path d="M546.10 724.50H556.10" stroke="#8ccbe8" stroke-width="1.1"/>
<rect x="571.68" y="722.00" width="5.40" height="5.40" fill="none" stroke="#8ccbe8" stroke-width="1.2"/><path d="M571.68 722.00L577.08 727.40M571.68 727.40L577.08 722.00" stroke="#8ccbe8" stroke-width="1.2" fill="none"/>
<path d="M569.38 724.70H579.38" stroke="#8ccbe8" stroke-width="1.1"/>
<rect x="594.96" y="722.30" width="5.40" height="5.40" fill="none" stroke="#8ccbe8" stroke-width="1.2"/><path d="M594.96 722.30L600.36 727.70M594.96 727.70L600.36 722.30" stroke="#8ccbe8" stroke-width="1.2" fill="none"/>
<path d="M592.66 725.00H602.66" stroke="#8ccbe8" stroke-width="1.1"/>
<rect x="618.23" y="724.30" width="5.40" height="5.40" fill="none" stroke="#8ccbe8" stroke-width="1.2"/><path d="M618.23 724.30L623.63 729.70M618.23 729.70L623.63 724.30" stroke="#8ccbe8" stroke-width="1.2" fill="none"/>
<path d="M615.93 727.00H625.93" stroke="#8ccbe8" stroke-width="1.1"/>
<rect x="641.51" y="725.20" width="5.40" height="5.40" fill="none" stroke="#8ccbe8" stroke-width="1.2"/><path d="M641.51 725.20L646.91 730.60M641.51 730.60L646.91 725.20" stroke="#8ccbe8" stroke-width="1.2" fill="none"/>
<path d="M639.21 727.90H649.21" stroke="#8ccbe8" stroke-width="1.1"/>
<rect x="664.79" y="726.00" width="5.40" height="5.40" fill="none" stroke="#8ccbe8" stroke-width="1.2"/><path d="M664.79 726.00L670.19 731.40M664.79 731.40L670.19 726.00" stroke="#8ccbe8" stroke-width="1.2" fill="none"/>
<path d="M662.49 728.70H672.49" stroke="#8ccbe8" stroke-width="1.1"/>
<path d="M441.35 766.52L451.35 760.08M464.54 751.38L474.72 744.52M487.74 735.57L498.07 728.33M511.05 719.33L521.31 712.27M534.37 703.38L544.55 696.52M557.70 687.76L567.78 681.14M580.85 672.27L591.18 665.03M600.17 653.01L618.42 598.69M624.38 584.09L640.76 550.31M651.88 541.29L659.82 539.31" stroke="#9a1c24" stroke-width="1.2" fill="none"/>
<polygon points="434.71,766.60 438.35,772.90 431.07,772.90" fill="none" stroke="#9a1c24" stroke-width="1.2" stroke-linejoin="miter"/>
<circle cx="434.71" cy="770.80" r="0.55" fill="#9a1c24"/>
<polygon points="457.99,751.60 461.63,757.90 454.35,757.90" fill="none" stroke="#9a1c24" stroke-width="1.2" stroke-linejoin="miter"/>
<circle cx="457.99" cy="755.80" r="0.55" fill="#9a1c24"/>
<polygon points="481.27,735.90 484.90,742.20 477.63,742.20" fill="none" stroke="#9a1c24" stroke-width="1.2" stroke-linejoin="miter"/>
<circle cx="481.27" cy="740.10" r="0.55" fill="#9a1c24"/>
<polygon points="504.54,719.60 508.18,725.90 500.91,725.90" fill="none" stroke="#9a1c24" stroke-width="1.2" stroke-linejoin="miter"/>
<circle cx="504.54" cy="723.80" r="0.55" fill="#9a1c24"/>
<polygon points="527.82,703.60 531.46,709.90 524.19,709.90" fill="none" stroke="#9a1c24" stroke-width="1.2" stroke-linejoin="miter"/>
<circle cx="527.82" cy="707.80" r="0.55" fill="#9a1c24"/>
<polygon points="551.10,687.90 554.74,694.20 547.46,694.20" fill="none" stroke="#9a1c24" stroke-width="1.2" stroke-linejoin="miter"/>
<circle cx="551.10" cy="692.10" r="0.55" fill="#9a1c24"/>
<polygon points="574.38,672.60 578.01,678.90 570.74,678.90" fill="none" stroke="#9a1c24" stroke-width="1.2" stroke-linejoin="miter"/>
<path d="M569.88 678.90H578.88M569.88 676.10H578.88" stroke="#9a1c24" stroke-width="1.0" fill="none"/>
<polygon points="597.66,656.30 601.29,662.60 594.02,662.60" fill="none" stroke="#9a1c24" stroke-width="1.2" stroke-linejoin="miter"/>
<path d="M593.16 662.60H602.16M593.16 659.80H602.16" stroke="#9a1c24" stroke-width="1.0" fill="none"/>
<polygon points="620.93,587.00 624.57,593.30 617.30,593.30" fill="none" stroke="#9a1c24" stroke-width="1.2" stroke-linejoin="miter"/>
<path d="M616.43 593.30H625.43M616.43 590.50H625.43" stroke="#9a1c24" stroke-width="1.0" fill="none"/>
<polygon points="644.21,539.00 647.85,545.30 640.57,545.30" fill="none" stroke="#9a1c24" stroke-width="1.2" stroke-linejoin="miter"/>
<path d="M639.71 545.30H648.71M639.71 542.50H648.71" stroke="#9a1c24" stroke-width="1.0" fill="none"/>
<polygon points="667.49,533.20 671.13,539.50 663.85,539.50" fill="none" stroke="#9a1c24" stroke-width="1.2" stroke-linejoin="miter"/>
<path d="M662.99 539.50H671.99M662.99 536.70H671.99" stroke="#9a1c24" stroke-width="1.0" fill="none"/>
<path d="M438.18 541.80L454.52 575.30M462.50 588.89L476.76 609.41M486.63 621.70L499.18 635.30M510.89 645.81L521.48 653.69M534.83 662.04L544.09 666.86M558.40 673.51L567.07 677.09M582.00 682.19L590.04 684.41M604.58 690.31L614.01 695.49M628.73 700.57L636.41 701.83M652.10 703.54L659.60 703.96" stroke="#30b93a" stroke-width="1.2" fill="none"/>
<polygon points="434.71,530.88 438.53,534.70 434.71,538.52 430.89,534.70" fill="none" stroke="#30b93a" stroke-width="1.2"/>
<circle cx="434.71" cy="534.70" r="0.55" fill="#30b93a"/>
<polygon points="457.99,578.58 461.81,582.40 457.99,586.22 454.17,582.40" fill="none" stroke="#30b93a" stroke-width="1.2"/>
<circle cx="457.99" cy="582.40" r="0.55" fill="#30b93a"/>
<polygon points="481.27,612.08 485.09,615.90 481.27,619.72 477.45,615.90" fill="none" stroke="#30b93a" stroke-width="1.2"/>
<circle cx="481.27" cy="615.90" r="0.55" fill="#30b93a"/>
<polygon points="504.54,637.28 508.36,641.10 504.54,644.92 500.73,641.10" fill="none" stroke="#30b93a" stroke-width="1.2"/>
<circle cx="504.54" cy="641.10" r="0.55" fill="#30b93a"/>
<polygon points="527.82,654.58 531.64,658.40 527.82,662.22 524.00,658.40" fill="none" stroke="#30b93a" stroke-width="1.2"/>
<circle cx="527.82" cy="658.40" r="0.55" fill="#30b93a"/>
<polygon points="551.10,666.68 554.92,670.50 551.10,674.32 547.28,670.50" fill="none" stroke="#30b93a" stroke-width="1.2"/>
<circle cx="551.10" cy="670.50" r="0.55" fill="#30b93a"/>
<polygon points="574.38,676.28 578.20,680.10 574.38,683.92 570.56,680.10" fill="none" stroke="#30b93a" stroke-width="1.2"/>
<circle cx="574.38" cy="680.10" r="0.55" fill="#30b93a"/>
<polygon points="597.66,682.68 601.47,686.50 597.66,690.32 593.84,686.50" fill="none" stroke="#30b93a" stroke-width="1.2"/>
<circle cx="597.66" cy="686.50" r="0.55" fill="#30b93a"/>
<polygon points="620.93,695.48 624.75,699.30 620.93,703.12 617.11,699.30" fill="none" stroke="#30b93a" stroke-width="1.2"/>
<path d="M615.93 699.30H625.93" stroke="#30b93a" stroke-width="1.1"/>
<polygon points="644.21,699.28 648.03,703.10 644.21,706.92 640.39,703.10" fill="none" stroke="#30b93a" stroke-width="1.2"/>
<path d="M639.21 703.10H649.21" stroke="#30b93a" stroke-width="1.1"/>
<polygon points="667.49,700.58 671.31,704.40 667.49,708.22 663.67,704.40" fill="none" stroke="#30b93a" stroke-width="1.2"/>
<path d="M662.49 704.40H672.49" stroke="#30b93a" stroke-width="1.1"/>
<path d="M438.94 529.27L453.76 552.63M463.30 565.14L475.95 579.06M487.65 589.56L498.16 597.24M511.59 605.47L520.78 610.13M535.27 616.32L543.65 619.28M558.86 623.40L566.62 624.90M582.19 627.57L589.84 628.73M605.52 630.68L613.07 631.42M628.83 632.06L636.31 631.94M652.11 631.60L659.59 631.40" stroke="#d8232b" stroke-width="1.2" fill="none"/>
<path d="M430.89 522.60H438.53M434.71 518.78V526.42" stroke="#d8232b" stroke-width="1.2" fill="none"/>
<path d="M454.17 559.30H461.81M457.99 555.48V563.12" stroke="#d8232b" stroke-width="1.2" fill="none"/>
<path d="M477.45 584.90H485.09M481.27 581.08V588.72" stroke="#d8232b" stroke-width="1.2" fill="none"/>
<path d="M500.73 601.90H508.36M504.54 598.08V605.72" stroke="#d8232b" stroke-width="1.2" fill="none"/>
<path d="M524.00 613.70H531.64M527.82 609.88V617.52" stroke="#d8232b" stroke-width="1.2" fill="none"/>
<path d="M547.28 621.90H554.92M551.10 618.08V625.72" stroke="#d8232b" stroke-width="1.2" fill="none"/>
<path d="M570.56 626.40H578.20M574.38 622.58V630.22" stroke="#d8232b" stroke-width="1.2" fill="none"/>
<path d="M593.84 629.90H601.47M597.66 626.08V633.72" stroke="#d8232b" stroke-width="1.2" fill="none"/>
<path d="M617.11 632.20H624.75M620.93 628.38V636.02" stroke="#d8232b" stroke-width="1.2" fill="none"/>
<path d="M640.39 631.80H648.03M644.21 627.98V635.62" stroke="#d8232b" stroke-width="1.2" fill="none"/>
<path d="M663.67 631.20H671.31M667.49 627.38V635.02" stroke="#d8232b" stroke-width="1.2" fill="none"/>
<path d="M440.64 499.32L452.06 509.38M464.01 519.72L475.25 529.28M487.74 538.93L498.07 546.17M511.05 555.17L521.31 562.23M534.58 570.79L544.34 576.71M558.02 584.61L567.46 589.79M581.58 596.85L590.45 600.85M601.97 610.72L616.62 633.18M626.40 645.50L638.75 658.40M650.72 668.57L660.98 675.63" stroke="#23902e" stroke-width="1.2" fill="none"/>
<polygon points="434.71,498.30 438.35,492.00 431.07,492.00" fill="none" stroke="#23902e" stroke-width="1.2" stroke-linejoin="miter"/>
<path d="M430.21 492.00H439.21M430.21 494.80H439.21" stroke="#23902e" stroke-width="1.0" fill="none"/>
<polygon points="457.99,518.80 461.63,512.50 454.35,512.50" fill="none" stroke="#23902e" stroke-width="1.2" stroke-linejoin="miter"/>
<path d="M453.49 512.50H462.49M453.49 515.30H462.49" stroke="#23902e" stroke-width="1.0" fill="none"/>
<polygon points="481.27,538.60 484.90,532.30 477.63,532.30" fill="none" stroke="#23902e" stroke-width="1.2" stroke-linejoin="miter"/>
<path d="M476.77 532.30H485.77M476.77 535.10H485.77" stroke="#23902e" stroke-width="1.0" fill="none"/>
<polygon points="504.54,554.90 508.18,548.60 500.91,548.60" fill="none" stroke="#23902e" stroke-width="1.2" stroke-linejoin="miter"/>
<path d="M500.04 548.60H509.04M500.04 551.40H509.04" stroke="#23902e" stroke-width="1.0" fill="none"/>
<polygon points="527.82,570.90 531.46,564.60 524.19,564.60" fill="none" stroke="#23902e" stroke-width="1.2" stroke-linejoin="miter"/>
<path d="M523.32 564.60H532.32M523.32 567.40H532.32" stroke="#23902e" stroke-width="1.0" fill="none"/>
<polygon points="551.10,585.00 554.74,578.70 547.46,578.70" fill="none" stroke="#23902e" stroke-width="1.2" stroke-linejoin="miter"/>
<path d="M546.60 578.70H555.60M546.60 581.50H555.60" stroke="#23902e" stroke-width="1.0" fill="none"/>
<polygon points="574.38,597.80 578.01,591.50 570.74,591.50" fill="none" stroke="#23902e" stroke-width="1.2" stroke-linejoin="miter"/>
<path d="M569.88 591.50H578.88M569.88 594.30H578.88" stroke="#23902e" stroke-width="1.0" fill="none"/>
<polygon points="597.66,608.30 601.29,602.00 594.02,602.00" fill="none" stroke="#23902e" stroke-width="1.2" stroke-linejoin="miter"/>
<path d="M593.16 602.00H602.16M593.16 604.80H602.16" stroke="#23902e" stroke-width="1.0" fill="none"/>
<polygon points="620.93,644.00 624.57,637.70 617.30,637.70" fill="none" stroke="#23902e" stroke-width="1.2" stroke-linejoin="miter"/>
<path d="M616.43 637.70H625.43M616.43 640.50H625.43" stroke="#23902e" stroke-width="1.0" fill="none"/>
<polygon points="644.21,668.30 647.85,662.00 640.57,662.00" fill="none" stroke="#23902e" stroke-width="1.2" stroke-linejoin="miter"/>
<path d="M639.71 662.00H648.71M639.71 664.80H648.71" stroke="#23902e" stroke-width="1.0" fill="none"/>
<polygon points="667.49,684.30 671.13,678.00 663.85,678.00" fill="none" stroke="#23902e" stroke-width="1.2" stroke-linejoin="miter"/>
<path d="M662.99 678.00H671.99M662.99 680.80H671.99" stroke="#23902e" stroke-width="1.0" fill="none"/>
<path d="M442.27 479.10L450.43 481.60M465.55 486.18L473.70 488.62M488.83 493.18L496.98 495.62M512.14 500.09L520.23 502.41M535.41 506.82L543.52 509.18M558.77 513.28L566.70 515.22M582.02 519.10L590.01 521.20M603.31 528.72L615.28 540.38M627.03 550.93L638.12 560.07M650.55 569.81L661.15 577.69" stroke="#f2a526" stroke-width="1.2" fill="none"/>
<path d="M432.01 474.10L437.41 479.50M432.01 479.50L437.41 474.10" stroke="#f2a526" stroke-width="1.2" fill="none"/>
<path d="M455.29 481.20L460.69 486.60M455.29 486.60L460.69 481.20" stroke="#f2a526" stroke-width="1.2" fill="none"/>
<path d="M478.57 488.20L483.97 493.60M478.57 493.60L483.97 488.20" stroke="#f2a526" stroke-width="1.2" fill="none"/>
<path d="M501.84 495.20L507.24 500.60M501.84 500.60L507.24 495.20" stroke="#f2a526" stroke-width="1.2" fill="none"/>
<path d="M525.12 501.90L530.52 507.30M525.12 507.30L530.52 501.90" stroke="#f2a526" stroke-width="1.2" fill="none"/>
<path d="M548.40 508.70L553.80 514.10M548.40 514.10L553.80 508.70" stroke="#f2a526" stroke-width="1.2" fill="none"/>
<path d="M571.68 514.40L577.08 519.80M571.68 519.80L577.08 514.40" stroke="#f2a526" stroke-width="1.2" fill="none"/>
<path d="M569.38 517.10H579.38" stroke="#f2a526" stroke-width="1.1"/>
<path d="M594.96 520.50L600.36 525.90M594.96 525.90L600.36 520.50" stroke="#f2a526" stroke-width="1.2" fill="none"/>
<path d="M592.66 523.20H602.66" stroke="#f2a526" stroke-width="1.1"/>
<path d="M618.23 543.20L623.63 548.60M618.23 548.60L623.63 543.20" stroke="#f2a526" stroke-width="1.2" fill="none"/>
<path d="M615.93 545.90H625.93" stroke="#f2a526" stroke-width="1.1"/>
<path d="M641.51 562.40L646.91 567.80M641.51 567.80L646.91 562.40" stroke="#f2a526" stroke-width="1.2" fill="none"/>
<path d="M639.21 565.10H649.21" stroke="#f2a526" stroke-width="1.1"/>
<path d="M664.79 579.70L670.19 585.10M664.79 585.10L670.19 579.70" stroke="#f2a526" stroke-width="1.2" fill="none"/>
<path d="M662.49 582.40H672.49" stroke="#f2a526" stroke-width="1.1"/>
<text transform="translate(65.90,602.18) rotate(-90)" font-size="18.0">Estimated Divergence (Subtitutions Per Site)</text>
<text transform="translate(732.10,541.46) rotate(-90)" font-size="18.0">Identity and Fraction of Sites</text>
<text transform="translate(217.72,857.70)" font-size="18.0">Divergence Distance (Substitutions Per Site)</text>
<rect x="125.5" y="876.5" width="532.90" height="85.30" fill="none" stroke="#2a2a2a" stroke-width="1.3"/>
<rect x="133.80" y="901.50" width="5.40" height="5.40" fill="none" stroke="#151515" stroke-width="1.2"/>
<text transform="translate(154.15,907.80)" font-size="12.8">Estimated Divergence</text>
<circle cx="136.50" cy="919.30" r="2.70" fill="none" stroke="#7f8890" stroke-width="1.2"/>
<text transform="translate(154.15,922.90)" font-size="12.8">Estimated Divergence in Constrained Blocks</text>
<polygon points="136.50,931.10 140.14,937.40 132.86,937.40" fill="none" stroke="#9a1c24" stroke-width="1.2" stroke-linejoin="miter"/>
<text transform="translate(154.15,937.90)" font-size="12.8">Estimated Divergence in Unconstrained Blocks</text>
<path d="M452.38 889.80H460.02M456.20 885.98V893.62" stroke="#d8232b" stroke-width="1.2" fill="none"/>
<text transform="translate(473.59,893.40)" font-size="12.8">Overall Identity</text>
<path d="M453.50 902.30L458.90 907.70M453.50 907.70L458.90 902.30" stroke="#f2a526" stroke-width="1.2" fill="none"/>
<text transform="translate(473.02,908.60)" font-size="12.8">Identity in Constrained Blocks</text>
<polygon points="456.20,916.38 460.02,920.20 456.20,924.02 452.38,920.20" fill="none" stroke="#30b93a" stroke-width="1.2"/>
<text transform="translate(473.02,923.80)" font-size="12.8">Identity in Unconstrained Blocks</text>
<polygon points="456.20,940.30 459.84,934.00 452.56,934.00" fill="none" stroke="#23902e" stroke-width="1.2" stroke-linejoin="miter"/>
<text transform="translate(474.18,939.00)" font-size="12.8">Ancestral Sequence Remaining</text>
<rect x="453.50" y="949.00" width="5.40" height="5.40" fill="none" stroke="#8ccbe8" stroke-width="1.2"/><path d="M453.50 949.00L458.90 954.40M453.50 954.40L458.90 949.00" stroke="#8ccbe8" stroke-width="1.2" fill="none"/>
<text transform="translate(473.55,954.30)" font-size="12.8">Constrained Blocks</text>
</svg>
</body></html>
